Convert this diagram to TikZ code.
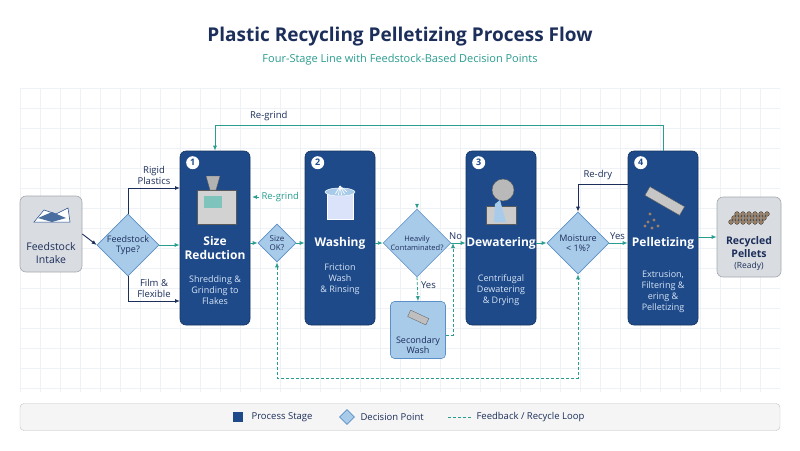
\documentclass[tikz,border=0pt]{standalone}
\usepackage{fontspec}
\setmainfont{Open Sans}
\usetikzlibrary{shapes.geometric,arrows.meta}
\definecolor{navy}{HTML}{1E4A8A}
\definecolor{dnavy}{HTML}{1C2E5A}
\definecolor{tealc}{HTML}{2A9D8F}
\definecolor{dfill}{HTML}{A9CBEA}
\definecolor{dborder}{HTML}{5B8FC7}
\definecolor{gfill}{HTML}{D9DCE1}
\definecolor{gborder}{HTML}{A4A8AE}
\definecolor{desc}{HTML}{D6E4F5}
\definecolor{gridc}{HTML}{EEF1F5}
\tikzset{
  stage/.style={draw=navy!70!black,fill=navy,rounded corners=6pt,minimum width=70pt,minimum height=174pt,line width=0.6pt},
  endbox/.style={draw=gborder,fill=gfill,rounded corners=6pt,line width=0.6pt},
  dec/.style={diamond,draw=dborder,fill=dfill,aspect=1,inner sep=0pt,line width=0.6pt,font=\fontsize{9}{10}\selectfont,align=center,text=dnavy},
  num/.style={circle,fill=white,inner sep=0pt,minimum size=13pt,font=\fontsize{9}{9}\selectfont\bfseries,text=navy},
  stitle/.style={text=white,font=\fontsize{12}{14}\selectfont\bfseries,align=center},
  sdesc/.style={text=desc,font=\fontsize{9}{11}\selectfont,align=center},
  lbl/.style={font=\fontsize{9.5}{11}\selectfont,text=dnavy,align=center},
  flow/.style={-{Latex[length=5pt,width=4pt]},draw=tealc,line width=0.9pt},
  dflow/.style={-{Latex[length=5pt,width=4pt]},draw=dnavy,line width=0.9pt},
  loop/.style={-{Latex[length=5pt,width=4pt]},draw=tealc,line width=0.8pt,dash pattern=on 3pt off 2pt},
}
\begin{document}
\begin{tikzpicture}[x=1pt,y=-1pt]
\useasboundingbox (0,0) rectangle (800,450);
\fill[white] (0,0) rectangle (800,450);
% grid
\begin{scope}
\clip (20,88) rectangle (780,392);
\foreach \x in {20,40,...,780} \draw[gridc,line width=0.5pt] (\x,88) -- (\x,392);
\foreach \y in {88,108,...,392} \draw[gridc,line width=0.5pt] (20,\y) -- (780,\y);
\end{scope}
% titles
\node[font=\fontsize{19}{24}\selectfont\bfseries,text=dnavy] (title) at (400,37) {Plastic Recycling Pelletizing Process Flow};
\node[font=\fontsize{11}{14}\selectfont,text=tealc] (sub) at (400,60) {Four-Stage Line with Feedstock-Based Decision Points};
% end boxes
\node[endbox,minimum width=62pt,minimum height=76pt] (intake) at (51,234) {};
\node[lbl,font=\fontsize{10.5}{13}\selectfont] (intaket) at (51,253) {Feedstock\\Intake};
\node[endbox,minimum width=64pt,minimum height=80pt] (pellets) at (749,237) {};
\node[lbl,font=\fontsize{10.5}{12.5}\selectfont\bfseries] (pelt) at (749,247) {Recycled\\Pellets};
\node[lbl,font=\fontsize{8.5}{10}\selectfont] (readyt) at (749,266) {(Ready)};
% intake icon
\fill[white,draw=navy,line width=0.5pt] (34,222) -- (44,210) -- (56,214) -- (68,208) -- (70,222) -- cycle;
\fill[navy!80] (38,218) -- (52,212) -- (66,218) -- (52,222) -- cycle;
% pellets icon
\foreach \i in {0,...,5}\foreach \j in {0,...,2}
  \fill[gray!60!brown,draw=gray!40!black,line width=0.3pt] (731+\i*6+\j*3,222-\j*4) circle (2.4pt);
% stages
\node[stage] (s1) at (215,238) {};
\node[stage] (s2) at (340,238) {};
\node[stage] (s3) at (501,238) {};
\node[stage] (s4) at (663,238) {};
\foreach \s/\n in {s1/1,s2/2,s3/3,s4/4}
  \node[num] (n\n) at ([xshift=13pt,yshift=-12pt]\s.north west) {\n};
\node[stitle] (t1) at (215,248) {Size\\Reduction};
\node[sdesc] (d1) at (215,290) {Shredding \&\\Grinding to\\Flakes};
\node[stitle] (t2) at (340,243) {Washing};
\node[sdesc] (d2) at (340,279) {Friction\\Wash\\\& Rinsing};
\node[stitle] (t3) at (501,243) {Dewatering};
\node[sdesc] (d3) at (501,290) {Centrifugal\\Dewatering\\\& Drying};
\node[stitle] (t4) at (663,243) {Pelletizing};
\node[sdesc] (d4) at (663,292) {Extrusion,\\Filtering \&\\ering \&\\Pelletizing};
% icons
\fill[gray!35,draw=gray!70!black,line width=0.4pt] (197,190) rectangle (236,224);
\fill[gray!60,draw=gray!70!black,line width=0.4pt] (206,176) -- (220,176) -- (216,190) -- (210,190) -- cycle;
\fill[tealc!60] (204,196) rectangle (222,208);
\fill[dfill!80!blue!30,draw=white,line width=0.5pt] (327,192) rectangle (353,219);
\fill[dfill,draw=white,line width=0.5pt] (340,192) ellipse (15pt and 4pt);
\foreach \a in {60,80,...,140} \draw[white,line width=0.7pt] (340,186) -- ++(\a:-9pt);
\fill[gray!40,draw=gray!70!black,line width=0.4pt] (486,206) rectangle (516,224);
\fill[gray!55,draw=gray!70!black,line width=0.4pt] (503,190) circle (11pt);
\fill[dfill] (495,204) -- (500,200) -- (506,222) -- (494,222) -- cycle;
\fill[gray!45,draw=gray!70!black,line width=0.4pt,rotate around={-30:(663,200)}] (645,195) rectangle (685,205);
\foreach \p in {(650,214),(654,220),(648,222),(658,226),(652,228),(645,226)}
  \fill[brown!50!gray] \p circle (1.6pt);
% decisions
\node[dec,minimum size=62pt] (dtype) at (128,245) {Feedstock\\Type?};
\node[dec,minimum size=38pt,font=\fontsize{8}{9}\selectfont] (dsize) at (277,243) {Size\\OK?};
\node[dec,minimum size=62pt,font=\fontsize{7.5}{9}\selectfont] (dcont) at (417,243) {Heavily\\Contaminated?};
\node[dec,minimum size=62pt] (dmoist) at (578,243) {Moisture\\< 1\%?};
% secondary wash
\node[draw=dborder,fill=dfill,rounded corners=4pt,minimum width=55pt,minimum height=57pt,line width=0.6pt] (sw) at (418,330) {};
\node[lbl,font=\fontsize{9}{10}\selectfont] (swt) at (418,345) {Secondary\\Wash};
\fill[gray!50,draw=gray!70!black,line width=0.3pt,rotate around={-25:(418,318)}] (408,314) rectangle (428,321);
% main flow
\draw[dflow] (intake.east) -- (dtype.west);
\draw[flow] (dtype.east) -- (s1.west |- dtype.east);
\draw[flow] (s1.east |- dsize.west) -- (dsize.west);
\draw[flow] (dsize.east) -- (s2.west |- dsize.east);
\draw[flow] (s2.east |- dcont.west) -- (dcont.west);
\draw[flow] (dcont.east) -- node[lbl,above,pos=0.3] (no) {No} (s3.west |- dcont.east);
\draw[flow] (s3.east |- dmoist.west) -- (dmoist.west);
\draw[flow] (dmoist.east) -- node[lbl,above,pos=0.45] (yes) {Yes} (s4.west |- dmoist.east);
\draw[flow] (s4.east |- pellets.west) -- (pellets.west);
% type branches
\coordinate (rr) at (180,188);
\coordinate (ff) at (180,301);
\draw[dflow] (dtype.north) -- (128,188) -- node[lbl,above,pos=0.5] (rigid) {Rigid\\Plastics} (rr);
\draw[dflow] (dtype.south) -- (128,301) -- node[lbl,above,pos=0.5] (film) {Film \&\\Flexible} (ff);
% regrind top
\draw[flow,line width=0.8pt] (s4.north) -- (663,125) -- node[lbl,above,pos=0.88] (rg1) {Re-grind} (215,125) -- (s1.north);
% regrind side
\coordinate (rgs) at (252,197);
\coordinate (rgs2) at (259,197);
\draw[flow,line width=0.8pt] (rgs2) -- (rgs);
\node[font=\fontsize{9.5}{11}\selectfont,text=tealc,anchor=west] (rg2) at (258,197) {Re-grind};
% dashed recycle loop
\coordinate (lb1) at (277,378);
\coordinate (lb2) at (578,378);
\draw[loop,{Latex[length=5pt,width=4pt]}-{Latex[length=5pt,width=4pt]}] (dsize.south) -- (lb1) -- (lb2) -- (dmoist.south);
% secondary wash loop
\draw[loop] (dcont.south) -- node[lbl,right,pos=0.35] (yes2) {Yes} (sw.north);
\coordinate (swr) at (453,335);
\coordinate (swu) at (453,243);
\draw[loop] (sw.east |- swr) -- (swr) -- (swu);
\coordinate (ct) at (417,205);
\draw[loop] (ct) -- (dcont.north);
% re-dry
\coordinate (rdc) at (578,184);
\draw[dflow,line width=0.8pt] (s4.west |- rdc) -- node[lbl,above,pos=0.6] (rd) {Re-dry} (rdc) -- (dmoist.north);
% legend
\node[draw=gborder!70,fill=gray!8,rounded corners=4pt,minimum width=760pt,minimum height=27pt] (leg) at (400,417) {};
\node[fill=navy,minimum size=10pt,inner sep=0pt] (lsq) at (238,417) {};
\node[lbl,anchor=west] (lsqt) at (248,417) {Process Stage};
\node[dec,minimum size=15pt] (ldia) at (347,417) {};
\node[lbl,anchor=west] (ldiat) at (357,417) {Decision Point};
\coordinate (ll1) at (448,417);
\coordinate (ll2) at (471,417);
\draw[tealc,line width=0.8pt,dash pattern=on 3pt off 2pt] (ll1) -- (ll2);
\node[lbl,anchor=west] (llt) at (473,417) {Feedback / Recycle Loop};
\end{tikzpicture}
\end{document}
